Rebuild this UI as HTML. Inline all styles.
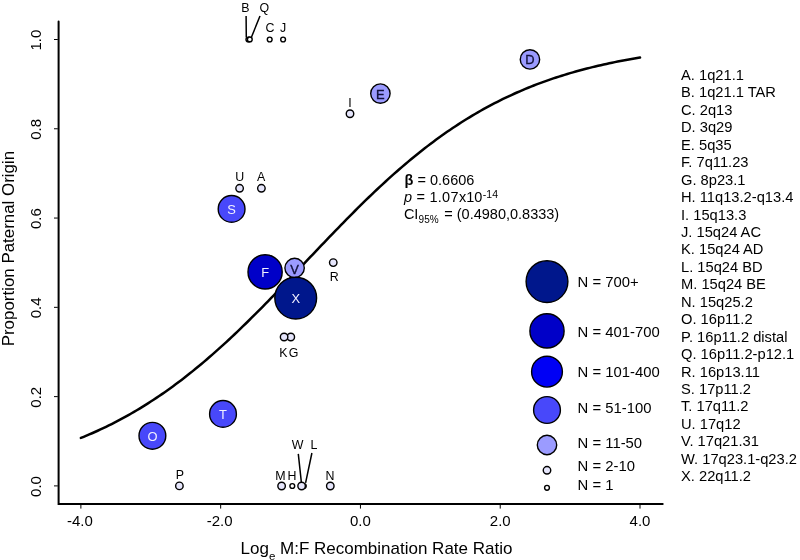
<!DOCTYPE html><html><head><meta charset="utf-8"><style>html,body{margin:0;padding:0;background:#fff;width:800px;height:560px;overflow:hidden}svg{display:block;will-change:transform}text{font-family:"Liberation Sans", sans-serif}</style></head><body>
<svg width="800" height="560" viewBox="0 0 800 560">
<rect width="800" height="560" fill="#fff"/>
<path d="M80.89 437.96L83.69 436.82L86.48 435.65L89.28 434.46L92.07 433.25L94.87 432.01L97.66 430.74L100.46 429.45L103.25 428.14L106.05 426.80L108.85 425.43L111.64 424.03L114.44 422.61L117.23 421.16L120.03 419.69L122.82 418.18L125.62 416.65L128.42 415.09L131.21 413.50L134.01 411.88L136.80 410.24L139.60 408.56L142.39 406.86L145.19 405.13L147.98 403.36L150.78 401.57L153.58 399.75L156.37 397.90L159.17 396.01L161.96 394.10L164.76 392.16L167.55 390.19L170.35 388.19L173.14 386.15L175.94 384.09L178.74 382.00L181.53 379.88L184.33 377.73L187.12 375.55L189.92 373.34L192.71 371.10L195.51 368.83L198.31 366.54L201.10 364.21L203.90 361.86L206.69 359.48L209.49 357.07L212.28 354.63L215.08 352.17L217.87 349.68L220.67 347.17L223.47 344.63L226.26 342.07L229.06 339.48L231.85 336.87L234.65 334.23L237.44 331.58L240.24 328.90L243.03 326.20L245.83 323.48L248.63 320.74L251.42 317.98L254.22 315.20L257.01 312.41L259.81 309.60L262.60 306.77L265.40 303.93L268.20 301.07L270.99 298.20L273.79 295.32L276.58 292.43L279.38 289.53L282.17 286.62L284.97 283.70L287.76 280.78L290.56 277.84L293.36 274.91L296.15 271.96L298.95 269.02L301.74 266.07L304.54 263.12L307.33 260.17L310.13 257.23L312.92 254.28L315.72 251.34L318.52 248.40L321.31 245.46L324.11 242.53L326.90 239.61L329.70 236.70L332.49 233.80L335.29 230.90L338.09 228.02L340.88 225.15L343.68 222.29L346.47 219.44L349.27 216.61L352.06 213.80L354.86 211.00L357.65 208.22L360.45 205.45L363.25 202.71L366.04 199.98L368.84 197.27L371.63 194.59L374.43 191.93L377.22 189.28L380.02 186.67L382.81 184.07L385.61 181.50L388.41 178.95L391.20 176.43L394.00 173.94L396.79 171.47L399.59 169.02L402.38 166.61L405.18 164.22L407.98 161.86L410.77 159.53L413.57 157.22L416.36 154.95L419.16 152.70L421.95 150.48L424.75 148.29L427.54 146.13L430.34 144.00L433.14 141.90L435.93 139.83L438.73 137.79L441.52 135.78L444.32 133.80L447.11 131.85L449.91 129.93L452.70 128.04L455.50 126.18L458.30 124.35L461.09 122.55L463.89 120.78L466.68 119.03L469.48 117.32L472.27 115.64L475.07 113.98L477.87 112.36L480.66 110.76L483.46 109.19L486.25 107.65L489.05 106.14L491.84 104.66L494.64 103.20L497.43 101.77L500.23 100.37L503.03 98.99L505.82 97.64L508.62 96.32L511.41 95.02L514.21 93.75L517.00 92.50L519.80 91.28L522.59 90.08L525.39 88.91L528.19 87.76L530.98 86.64L533.78 85.53L536.57 84.45L539.37 83.40L542.16 82.36L544.96 81.35L547.76 80.36L550.55 79.39L553.35 78.44L556.14 77.51L558.94 76.60L561.73 75.71L564.53 74.84L567.32 73.99L570.12 73.16L572.92 72.35L575.71 71.55L578.51 70.77L581.30 70.01L584.10 69.27L586.89 68.55L589.69 67.84L592.48 67.14L595.28 66.47L598.08 65.80L600.87 65.16L603.67 64.53L606.46 63.91L609.26 63.31L612.05 62.72L614.85 62.14L617.65 61.58L620.44 61.03L623.24 60.50L626.03 59.98L628.83 59.47L631.62 58.97L634.42 58.48L637.21 58.01L640.01 57.54" fill="none" stroke="#000" stroke-width="2.5" stroke-linejoin="round" stroke-linecap="round"/>
<path d="M58.6 21.5 V503.9 H662.7" fill="none" stroke="#000" stroke-width="2" stroke-linecap="round" stroke-linejoin="miter"/>
<path d="M80.89 504.8 V508.6M220.67 504.8 V508.6M360.45 504.8 V508.6M500.23 504.8 V508.6M640.01 504.8 V508.6M57.8 485.90 H54.0M57.8 396.62 H54.0M57.8 307.34 H54.0M57.8 218.06 H54.0M57.8 128.78 H54.0M57.8 39.50 H54.0" stroke="#000" stroke-width="1"/>
<text x="79.89" y="525.5" font-size="15" text-anchor="middle">-4.0</text>
<text x="219.67" y="525.5" font-size="15" text-anchor="middle">-2.0</text>
<text x="360.45" y="525.5" font-size="15" text-anchor="middle">0.0</text>
<text x="500.23" y="525.5" font-size="15" text-anchor="middle">2.0</text>
<text x="640.01" y="525.5" font-size="15" text-anchor="middle">4.0</text>
<text transform="translate(41.4 486.50) rotate(-90)" font-size="15" text-anchor="middle">0.0</text>
<text transform="translate(41.4 397.22) rotate(-90)" font-size="15" text-anchor="middle">0.2</text>
<text transform="translate(41.4 307.94) rotate(-90)" font-size="15" text-anchor="middle">0.4</text>
<text transform="translate(41.4 218.66) rotate(-90)" font-size="15" text-anchor="middle">0.6</text>
<text transform="translate(41.4 129.38) rotate(-90)" font-size="15" text-anchor="middle">0.8</text>
<text transform="translate(41.4 40.10) rotate(-90)" font-size="15" text-anchor="middle">1.0</text>
<text x="240.5" y="554" font-size="17">Log<tspan font-size="11.5" dy="6">e</tspan><tspan dy="-6"> M:F Recombination Rate Ratio</tspan></text>
<text transform="translate(14.1 346.3) rotate(-90)" font-size="16.92">Proportion Paternal Origin</text>
<path d="M246.1 16 L246.3 37.4 M260 16 L251.4 37.3 M298.3 453.8 L301.4 482.6 M311.9 453 L305.6 482.8" stroke="#000" stroke-width="1.5" fill="none"/>
<circle cx="261.40" cy="188.30" r="3.75" fill="#e6e6fc" stroke="#000" stroke-width="1.4"/>
<circle cx="248.40" cy="39.50" r="2.40" fill="#ffffff" stroke="#000" stroke-width="1.4"/>
<circle cx="269.70" cy="39.50" r="2.40" fill="#ffffff" stroke="#000" stroke-width="1.4"/>
<circle cx="529.95" cy="59.45" r="9.70" fill="#9b9bff" stroke="#000" stroke-width="1.4"/>
<text x="529.95" y="64.45" font-size="12.9" text-anchor="middle" fill="#10103a" stroke="#10103a" stroke-width="0.35">D</text>
<circle cx="380.40" cy="93.60" r="9.70" fill="#9b9bff" stroke="#000" stroke-width="1.4"/>
<text x="380.40" y="98.60" font-size="12.9" text-anchor="middle" fill="#10103a" stroke="#10103a" stroke-width="0.35">E</text>
<circle cx="265.10" cy="271.90" r="17.10" fill="#0000c8" stroke="#000" stroke-width="1.4"/>
<text x="265.10" y="277.20" font-size="12.9" text-anchor="middle" fill="#f2f2ff">F</text>
<circle cx="290.80" cy="337.00" r="3.75" fill="#e6e6fc" stroke="#000" stroke-width="1.4"/>
<circle cx="292.30" cy="486.00" r="2.40" fill="#ffffff" stroke="#000" stroke-width="1.4"/>
<circle cx="350.00" cy="113.75" r="3.75" fill="#e6e6fc" stroke="#000" stroke-width="1.4"/>
<circle cx="283.10" cy="39.50" r="2.40" fill="#ffffff" stroke="#000" stroke-width="1.4"/>
<circle cx="284.10" cy="337.00" r="3.75" fill="#e6e6fc" stroke="#000" stroke-width="1.4"/>
<circle cx="303.80" cy="486.00" r="2.40" fill="#ffffff" stroke="#000" stroke-width="1.4"/>
<circle cx="281.60" cy="486.00" r="3.75" fill="#e6e6fc" stroke="#000" stroke-width="1.4"/>
<circle cx="330.30" cy="486.00" r="3.75" fill="#e6e6fc" stroke="#000" stroke-width="1.4"/>
<circle cx="152.40" cy="435.80" r="13.40" fill="#4848fa" stroke="#000" stroke-width="1.4"/>
<text x="152.40" y="441.10" font-size="12.9" text-anchor="middle" fill="#f2f2ff">O</text>
<circle cx="179.40" cy="485.90" r="3.75" fill="#e6e6fc" stroke="#000" stroke-width="1.4"/>
<circle cx="249.80" cy="39.40" r="2.40" fill="#ffffff" stroke="#000" stroke-width="1.4"/>
<circle cx="333.25" cy="262.60" r="3.75" fill="#e6e6fc" stroke="#000" stroke-width="1.4"/>
<circle cx="231.60" cy="208.90" r="13.40" fill="#4848fa" stroke="#000" stroke-width="1.4"/>
<text x="231.60" y="214.20" font-size="12.9" text-anchor="middle" fill="#f2f2ff">S</text>
<circle cx="223.00" cy="413.90" r="13.40" fill="#4848fa" stroke="#000" stroke-width="1.4"/>
<text x="223.00" y="419.20" font-size="12.9" text-anchor="middle" fill="#f2f2ff">T</text>
<circle cx="239.60" cy="188.30" r="3.75" fill="#e6e6fc" stroke="#000" stroke-width="1.4"/>
<circle cx="294.60" cy="268.00" r="9.70" fill="#9b9bff" stroke="#000" stroke-width="1.4"/>
<text x="294.60" y="273.90" font-size="12.9" text-anchor="middle" fill="#10103a" stroke="#10103a" stroke-width="0.35">V</text>
<circle cx="301.60" cy="486.00" r="3.75" fill="#e6e6fc" stroke="#000" stroke-width="1.4"/>
<circle cx="295.70" cy="298.10" r="20.90" fill="#00178c" stroke="#000" stroke-width="1.4"/>
<text x="295.70" y="303.40" font-size="12.9" text-anchor="middle" fill="#f2f2ff">X</text>
<text x="261.20" y="181.30" font-size="12.4" text-anchor="middle">A</text>
<text x="239.80" y="181.30" font-size="12.4" text-anchor="middle">U</text>
<text x="245.50" y="12.20" font-size="12.4" text-anchor="middle">B</text>
<text x="264.30" y="12.20" font-size="12.4" text-anchor="middle">Q</text>
<text x="270.00" y="32.20" font-size="12.4" text-anchor="middle">C</text>
<text x="283.00" y="32.20" font-size="12.4" text-anchor="middle">J</text>
<text x="350.00" y="107.00" font-size="12.4" text-anchor="middle">I</text>
<text x="334.20" y="281.40" font-size="12.4" text-anchor="middle">R</text>
<text x="283.50" y="357.30" font-size="12.4" text-anchor="middle">K</text>
<text x="293.60" y="357.30" font-size="12.4" text-anchor="middle">G</text>
<text x="179.80" y="479.00" font-size="12.4" text-anchor="middle">P</text>
<text x="280.30" y="479.50" font-size="12.4" text-anchor="middle">M</text>
<text x="292.00" y="479.50" font-size="12.4" text-anchor="middle">H</text>
<text x="330.00" y="479.50" font-size="12.4" text-anchor="middle">N</text>
<text x="297.60" y="448.90" font-size="12.4" text-anchor="middle">W</text>
<text x="314.00" y="448.90" font-size="12.4" text-anchor="middle">L</text>
<text x="404.6" y="184.5" font-size="14.5"><tspan font-weight="bold">β</tspan> = 0.6606</text>
<text x="403.9" y="202.1" font-size="14.5" letter-spacing="0.25"><tspan font-style="italic">p</tspan> = 1.07</text>
<text x="458.9" y="202.1" font-size="14.5">x10</text>
<text x="482.8" y="197.6" font-size="10.5">-14</text>
<text x="403.9" y="218.5" font-size="14.5">CI</text>
<text x="418.6" y="222.5" font-size="10">95%</text>
<text x="444.3" y="218.5" font-size="14.5">= (0.4980,0.8333)</text>
<circle cx="547" cy="281.60" r="20.90" fill="#00178c" stroke="#000" stroke-width="1.4"/>
<text x="577.6" y="287.10" font-size="14.85">N = 700+</text>
<circle cx="547" cy="330.90" r="17.10" fill="#0000c8" stroke="#000" stroke-width="1.4"/>
<text x="577.6" y="336.50" font-size="14.85">N = 401-700</text>
<circle cx="547" cy="371.70" r="15.40" fill="#0000f5" stroke="#000" stroke-width="1.4"/>
<text x="577.6" y="376.50" font-size="14.85">N = 101-400</text>
<circle cx="547" cy="410.00" r="13.40" fill="#4848fa" stroke="#000" stroke-width="1.4"/>
<text x="577.6" y="412.50" font-size="14.85">N = 51-100</text>
<circle cx="547" cy="445.00" r="9.70" fill="#9b9bff" stroke="#000" stroke-width="1.4"/>
<text x="577.6" y="448.20" font-size="14.85">N = 11-50</text>
<circle cx="547" cy="470.30" r="3.75" fill="#e6e6fc" stroke="#000" stroke-width="1.4"/>
<text x="577.6" y="470.50" font-size="14.85">N = 2-10</text>
<circle cx="547" cy="487.80" r="2.40" fill="#ffffff" stroke="#000" stroke-width="1.4"/>
<text x="577.6" y="490.20" font-size="14.85">N = 1</text>
<text x="681" y="79.90" font-size="14.7">A. 1q21.1</text>
<text x="681" y="97.35" font-size="14.7">B. 1q21.1 TAR</text>
<text x="681" y="114.80" font-size="14.7">C. 2q13</text>
<text x="681" y="132.25" font-size="14.7">D. 3q29</text>
<text x="681" y="149.70" font-size="14.7">E. 5q35</text>
<text x="681" y="167.15" font-size="14.7">F. 7q11.23</text>
<text x="681" y="184.60" font-size="14.7">G. 8p23.1</text>
<text x="681" y="202.05" font-size="14.7">H. 11q13.2-q13.4</text>
<text x="681" y="219.50" font-size="14.7">I. 15q13.3</text>
<text x="681" y="236.95" font-size="14.7">J. 15q24 AC</text>
<text x="681" y="254.40" font-size="14.7">K. 15q24 AD</text>
<text x="681" y="271.85" font-size="14.7">L. 15q24 BD</text>
<text x="681" y="289.30" font-size="14.7">M. 15q24 BE</text>
<text x="681" y="306.75" font-size="14.7">N. 15q25.2</text>
<text x="681" y="324.20" font-size="14.7">O. 16p11.2</text>
<text x="681" y="341.65" font-size="14.7">P. 16p11.2 distal</text>
<text x="681" y="359.10" font-size="14.7">Q. 16p11.2-p12.1</text>
<text x="681" y="376.55" font-size="14.7">R. 16p13.11</text>
<text x="681" y="394.00" font-size="14.7">S. 17p11.2</text>
<text x="681" y="411.45" font-size="14.7">T. 17q11.2</text>
<text x="681" y="428.90" font-size="14.7">U. 17q12</text>
<text x="681" y="446.35" font-size="14.7">V. 17q21.31</text>
<text x="681" y="463.80" font-size="14.7">W. 17q23.1-q23.2</text>
<text x="681" y="481.25" font-size="14.7">X. 22q11.2</text>
</svg></body></html>
